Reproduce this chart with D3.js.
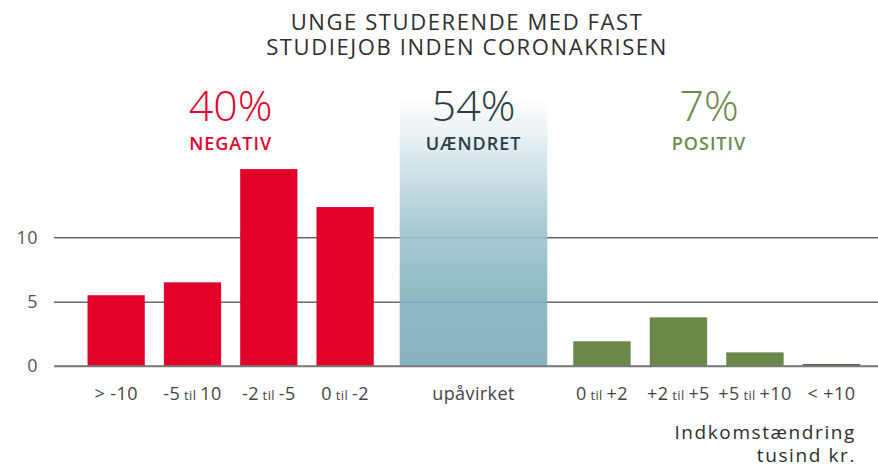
<!DOCTYPE html>
<html>
<head>
<meta charset="utf-8">
<script src="https://cdn.jsdelivr.net/npm/d3@7"></script>
<style>
  body { margin: 0; background: #fff; }
  svg { display: block; font-family: "Open Sans", sans-serif; }
</style>
</head>
<body>
<svg id="chart" width="878" height="466"></svg>
<script>
// data
const negCats = ["> -10", "-5 til 10", "-2 til -5", "0 til -2"];
const negValues = [5.5, 6.5, 15.3, 12.35];
const midCat = "upåvirket";
const midTop = 20.9;   // height of the shaded "unchanged" box on the same scale
const posCats = ["0 til +2", "+2 til +5", "+5 til +10", "< +10"];
const posValues = [1.92, 3.78, 1.06, 0.15];
const yTicks = [0, 5, 10];
const titleLines = ["UNGE STUDERENDE MED FAST", "STUDIEJOB INDEN CORONAKRISEN"];
const groups = [
  { pct: "40%", label: "NEGATIV", color: "#e2032f" },
  { pct: "54%", label: "UÆNDRET", color: "#2c3d47" },
  { pct: "7%", label: "POSITIV", color: "#6b8a4e" }
];

const svg = d3.select("#chart");
const red = "#e1002a", green = "#6a8849";

const y = d3.scaleLinear().domain([0, 10]).range([366, 237.3]);
const xNeg = d3.scaleBand().domain(negCats).range([78, 383.3]).paddingInner(0.25).paddingOuter(0.125);
const xMid = d3.scaleBand().domain([midCat]).range([383.3, 563.7]).padding(0.1);
const xPos = d3.scaleBand().domain(posCats).range([563.7, 869.7]).paddingInner(0.25).paddingOuter(0.125);

// gradient for middle box
const defs = svg.append("defs");
const grad = defs.append("linearGradient").attr("id", "midgrad")
  .attr("x1", 0).attr("y1", 0).attr("x2", 0).attr("y2", 1);
grad.append("stop").attr("offset", "0%").attr("stop-color", "#ffffff");
grad.append("stop").attr("offset", "15%").attr("stop-color", "#e3eef1");
grad.append("stop").attr("offset", "50%").attr("stop-color", "#9cc3cc");
grad.append("stop").attr("offset", "75%").attr("stop-color", "#7eb0bc");
grad.append("stop").attr("offset", "100%").attr("stop-color", "#78aab6");

// gridlines + y labels
const yAxis = svg.append("g")
  .attr("transform", "translate(54,0)")
  .call(d3.axisLeft(y).tickValues(yTicks).tickSize(-824).tickPadding(16));
yAxis.select(".domain").remove();
yAxis.selectAll(".tick line")
  .attr("stroke", d => d === 0 ? "#7a7a7a" : "#1e1e1e")
  .attr("stroke-width", d => d === 0 ? 1.6 : 1);
yAxis.selectAll(".tick text")
  .attr("fill", "#555").style("font-size", "18px")
  .style("letter-spacing", "0.5px")
  .style("font-family", "'Open Sans', sans-serif");

// unchanged box
svg.append("rect")
  .attr("x", xMid(midCat))
  .attr("width", xMid.bandwidth())
  .attr("y", y(midTop))
  .attr("height", y(0) - y(midTop))
  .attr("fill", "url(#midgrad)")
  .attr("fill-opacity", 0.88);

// negative bars
svg.append("g").selectAll("rect")
  .data(negCats)
  .enter().append("rect")
  .attr("x", d => xNeg(d))
  .attr("width", xNeg.bandwidth())
  .attr("y", (d, i) => y(negValues[i]))
  .attr("height", (d, i) => y(0) - y(negValues[i]))
  .attr("fill", red);

// positive bars
svg.append("g").selectAll("rect")
  .data(posCats)
  .enter().append("rect")
  .attr("x", d => xPos(d))
  .attr("width", xPos.bandwidth())
  .attr("y", (d, i) => y(posValues[i]))
  .attr("height", (d, i) => y(0) - y(posValues[i]))
  .attr("fill", (d, i) => i === 3 ? "#4d5a45" : green);

// zero line on top
svg.append("line")
  .attr("x1", 54).attr("x2", 878)
  .attr("y1", y(0)).attr("y2", y(0))
  .attr("stroke", "#7a7a7a").attr("stroke-width", 1.6);

// category labels with small "til"
function catLabel(g, cx, text) {
  const t = g.append("text")
    .attr("x", cx).attr("y", 400)
    .attr("text-anchor", "middle")
    .attr("fill", "#444")
    .style("font-size", "18px")
    .style("letter-spacing", "0.4px");
  const parts = text.split(" til ");
  t.append("tspan").text(parts[0]);
  if (parts.length > 1) {
    t.append("tspan").style("font-size", "13px").text(" til ");
    t.append("tspan").text(parts[1]);
  }
}
const labels = svg.append("g");
negCats.forEach(c => catLabel(labels, xNeg(c) + xNeg.bandwidth() / 2, c));
catLabel(labels, xMid(midCat) + xMid.bandwidth() / 2, midCat);
posCats.forEach(c => catLabel(labels, xPos(c) + xPos.bandwidth() / 2, c));

// title
svg.append("g").selectAll("text")
  .data(titleLines)
  .enter().append("text")
  .attr("x", 467)
  .attr("y", (d, i) => 30 + i * 25)
  .attr("text-anchor", "middle")
  .attr("fill", "#2e2e2e")
  .style("font-size", "22px")
  .style("letter-spacing", "1.6px")
  .text(d => d);

// group headers
const headX = [
  (xNeg(negCats[1]) + xNeg(negCats[2]) + xNeg.bandwidth()) / 2,
  xMid(midCat) + xMid.bandwidth() / 2,
  709
];
const heads = svg.append("g").selectAll("g")
  .data(groups)
  .enter().append("g")
  .attr("transform", (d, i) => `translate(${headX[i]},0)`);
heads.append("text")
  .attr("y", 121)
  .attr("text-anchor", "middle")
  .attr("fill", d => d.color)
  .style("font-size", "43px")
  .style("font-weight", 300)
  .text(d => d.pct);
heads.append("text")
  .attr("y", 150)
  .attr("text-anchor", "middle")
  .attr("fill", d => d.color)
  .style("font-size", "18px")
  .style("font-weight", 600)
  .style("letter-spacing", "1px")
  .text(d => d.label);

// axis title
svg.append("text")
  .attr("x", 856).attr("y", 439)
  .attr("text-anchor", "end")
  .attr("fill", "#2e2e2e")
  .style("font-size", "19px")
  .style("letter-spacing", "1.6px")
  .text("Indkomstændring");
svg.append("text")
  .attr("x", 856).attr("y", 462)
  .attr("text-anchor", "end")
  .attr("fill", "#2e2e2e")
  .style("font-size", "19px")
  .style("letter-spacing", "1.6px")
  .text("tusind kr.");
</script>
</body>
</html>
